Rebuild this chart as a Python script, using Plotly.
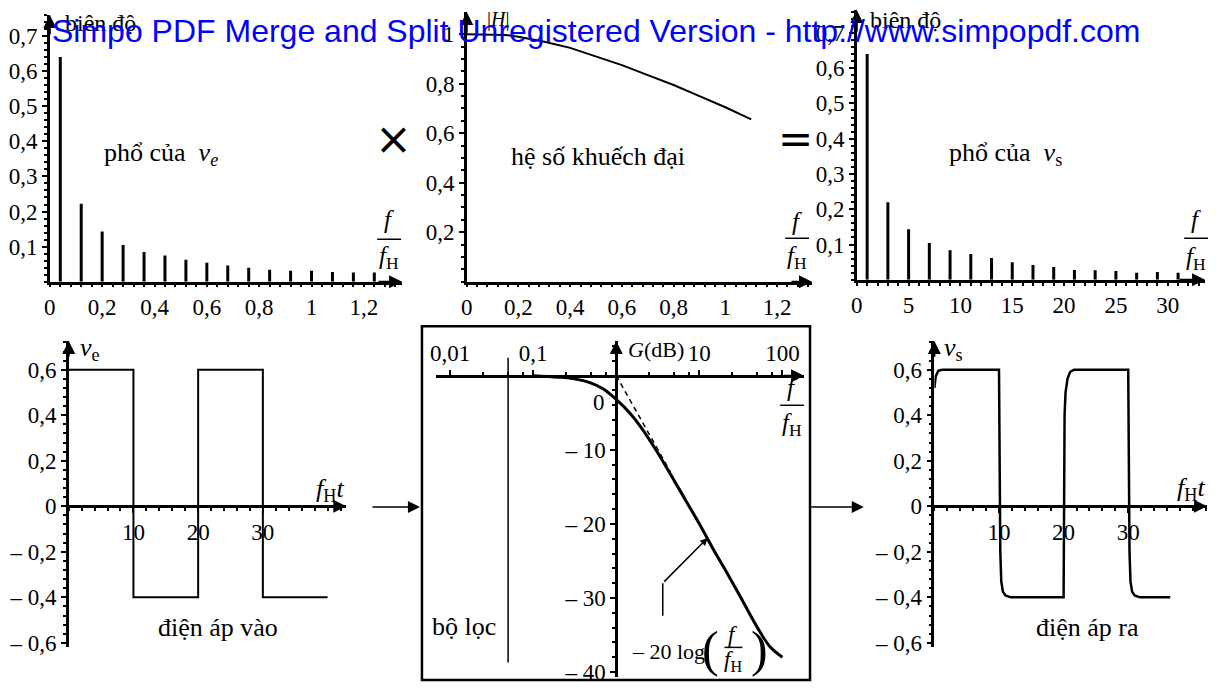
import math
import plotly.graph_objects as go

# the page body keeps an 8 px margin, so the figure is made to fit inside the window
OFF = 8
W, H = 1221 - 2 * OFF, 697 - 2 * OFF


def fx(p):
    return (p - OFF) / W


def fy(p):
    return 1 - (p - OFF) / H


# ---- data ----
# spectrum of v_e (f/fH, amplitude)
ve_freq = [0.04, 0.12, 0.20, 0.28, 0.36, 0.44, 0.52, 0.60, 0.68, 0.76, 0.84, 0.92, 1.00, 1.08, 1.16, 1.24]
ve_amp = [0.64, 0.222, 0.143, 0.105, 0.085, 0.075, 0.063, 0.054, 0.046, 0.04, 0.034, 0.031, 0.031, 0.028, 0.026, 0.026]

# gain |H|
h_freq = [0, 0.1, 0.15, 0.2, 0.3, 0.4, 0.5, 0.6, 0.7, 0.8, 0.9, 1.0, 1.1]
h_gain = [1.0, 1.0, 0.997, 0.99, 0.97, 0.945, 0.91, 0.875, 0.835, 0.795, 0.75, 0.705, 0.656]

# spectrum of v_s (harmonic number, amplitude)
vs_harm = [1, 3, 5, 7, 9, 11, 13, 15, 17, 19, 21, 23, 25, 27, 29, 31]
vs_amp = [0.64, 0.22, 0.143, 0.104, 0.084, 0.073, 0.062, 0.05, 0.042, 0.036, 0.028, 0.027, 0.025, 0.02, 0.022, 0.02]

# input voltage v_e (fH t, volts) - step
ve_t = [0, 10, 20, 30, 40]
ve_v = [0.6, -0.4, 0.6, -0.4, -0.4]

# Bode plot of filter
bode_f = [0.1, 0.2, 0.3, 0.5, 0.7, 1, 1.5, 2, 3, 5, 7, 10, 15, 20, 30, 50, 70, 100]
bode_db = [0, -0.2, -0.4, -1.0, -1.8, -3.2, -5.2, -7.0, -10.0, -14.2, -17.0, -20.0, -23.6, -26.0, -29.5, -34.0, -36.5, -38.0]
asym_f = [1, 4.5]
asym_db = [0, -13]
cut_f = [0.05, 0.05]
cut_db = [2.4, -38.7]
lead_f = [3.63, 3.63]
lead_db = [-32.4, -28.0]
lead_tip = (12.6, -21.9)

# output voltage v_s
vs_t = [0, 0.2, 0.6, 1.2, 10, 10.1, 10.2, 10.35, 10.6, 11.0, 11.8, 20, 20.05, 20.15, 20.3, 20.6, 21.0, 21.6,
        30, 30.1, 30.2, 30.35, 30.6, 31.0, 31.8, 36.5]
vs_v = [0.52, 0.57, 0.595, 0.6, 0.6, 0.2, -0.2, -0.33, -0.375, -0.392, -0.4, -0.4, 0.0, 0.4, 0.5, 0.56, 0.59, 0.6,
        0.6, 0.2, -0.2, -0.33, -0.375, -0.392, -0.4, -0.4]

# tick labels
spec_y_vals = [0.1, 0.2, 0.3, 0.4, 0.5, 0.6, 0.7]
spec_y_text = ["0,1", "0,2", "0,3", "0,4", "0,5", "0,6", "0,7"]
f_x_vals = [0, 0.2, 0.4, 0.6, 0.8, 1.0, 1.2]
f_x_text = ["0", "0,2", "0,4", "0,6", "0,8", "1", "1,2"]
h_y_vals = [0.2, 0.4, 0.6, 0.8, 1.0]
h_y_text = ["0,2", "0,4", "0,6", "0,8", "1"]
n_x_vals = [0, 5, 10, 15, 20, 25, 30]
n_x_text = ["0", "5", "10", "15", "20", "25", "30"]
v_y_vals = [0.6, 0.4, 0.2, 0, -0.2, -0.4, -0.6]
v_y_text = ["0,6", "0,4", "0,2", "0", "– 0,2", "– 0,4", "– 0,6"]
t_x_vals = [10, 20, 30]
t_x_text = ["10", "20", "30"]
bode_x_vals = [0.01, 0.1, 10, 100]
bode_x_text = ["0,01", "0,1", "10", "100"]
bode_y_vals = [-10, -20, -30, -40]
bode_y_text = ["– 10", "– 20", "– 30", "– 40"]
bode_minor = [m * d for d in [0.01, 0.1, 1, 10] for m in [1, 2.5, 5, 7.5]] + [100]


def stems(xs, ys):
    sx, sy = [], []
    for a, b in zip(xs, ys):
        sx += [a, a, None]
        sy += [0, b, None]
    return sx, sy


black = "black"
TICK = 23
TXT = 26
fig = go.Figure()

s1x, s1y = stems(ve_freq, ve_amp)
fig.add_trace(go.Scatter(x=s1x, y=s1y, mode="lines", line=dict(color=black, width=3), xaxis="x", yaxis="y"))
fig.add_trace(go.Scatter(x=h_freq, y=h_gain, mode="lines", line=dict(color=black, width=2), xaxis="x2", yaxis="y2"))
s3x, s3y = stems(vs_harm, vs_amp)
fig.add_trace(go.Scatter(x=s3x, y=s3y, mode="lines", line=dict(color=black, width=3), xaxis="x3", yaxis="y3"))
fig.add_trace(go.Scatter(x=ve_t, y=ve_v, mode="lines", line=dict(color=black, width=2, shape="hv"), xaxis="x4", yaxis="y4"))
fig.add_trace(go.Scatter(x=bode_f, y=bode_db, mode="lines", line=dict(color=black, width=3, shape="spline"), xaxis="x5", yaxis="y5"))
fig.add_trace(go.Scatter(x=asym_f, y=asym_db, mode="lines", line=dict(color=black, width=1.5, dash="5px,4px"), xaxis="x5", yaxis="y5"))
fig.add_trace(go.Scatter(x=cut_f, y=cut_db, mode="lines", line=dict(color=black, width=1.5), xaxis="x5", yaxis="y5"))
fig.add_trace(go.Scatter(x=lead_f, y=lead_db, mode="lines", line=dict(color=black, width=1.5), xaxis="x5", yaxis="y5"))
fig.add_trace(go.Scatter(x=vs_t, y=vs_v, mode="lines", line=dict(color=black, width=2.5), xaxis="x6", yaxis="y6"))


def ax(domain, rng, vals=None, text=None, minor=None, **kw):
    d = dict(domain=domain, range=rng, showgrid=False, zeroline=False, showline=True,
             linecolor=black, linewidth=2.5, ticks="outside", ticklen=5, tickwidth=2,
             tickcolor=black, tickfont=dict(family="Liberation Serif", size=TICK, color=black))
    if vals is not None:
        d.update(tickmode="array", tickvals=vals, ticktext=text)
    if minor is not None:
        d["minor"] = dict(ticks="outside", ticklen=3, tickwidth=2, tickcolor=black, **minor)
    d.update(kw)
    return d


vy0 = 512  # pixel row of v = 0 in the bottom panels

layout = dict(
    width=W, height=H, margin=dict(l=0, r=0, t=0, b=0),
    paper_bgcolor="white", plot_bgcolor="white", showlegend=False,
    font=dict(family="Liberation Serif", size=TXT, color=black),
    xaxis=ax([fx(44), fx(398)], [0, 1.346], f_x_vals, f_x_text, dict(dtick=0.04, tick0=0), anchor="y", ticklen=3),
    yaxis=ax([fy(285), fy(15)], [0, 0.76], spec_y_vals, spec_y_text, dict(dtick=0.02, tick0=0), anchor="x"),
    xaxis2=ax([fx(463), fx(810)], [0, 1.335], f_x_vals, f_x_text, dict(dtick=0.04, tick0=0), anchor="y2", ticklen=3),
    yaxis2=ax([fy(285), fy(12)], [0, 1.09], h_y_vals, h_y_text, dict(dtick=0.05, tick0=0), anchor="x2"),
    xaxis3=ax([fx(855), fx(1205)], [0, 33.6], n_x_vals, n_x_text, dict(dtick=1, tick0=0), anchor="y3", ticklen=3),
    yaxis3=ax([fy(283), fy(10)], [0, 0.765], spec_y_vals, spec_y_text, dict(dtick=0.02, tick0=0), anchor="x3"),
    xaxis4=ax([fx(63), fx(342)], [0, 42.9], t_x_vals, t_x_text, dict(dtick=2, tick0=0), anchor="free", position=fy(vy0)),
    yaxis4=ax([fy(655), fy(345)], [-0.62, 0.726], v_y_vals, v_y_text, dict(dtick=0.04, tick0=0), anchor="x4"),
    xaxis5=ax([fx(432), fx(802)], [-2.17, 2.26], bode_x_vals, bode_x_text, dict(tickvals=bode_minor), type="log",
              anchor="free", position=fy(380), side="top"),
    yaxis5=ax([fy(685), fy(345)], [-40.67, 4.67], bode_y_vals, bode_y_text, dict(dtick=2, tick0=0),
              anchor="free", position=fx(613.2)),
    xaxis6=ax([fx(933), fx(1207)], [0, 42.2], t_x_vals, t_x_text, dict(dtick=2, tick0=0), anchor="free", position=fy(vy0)),
    yaxis6=ax([fy(655), fy(345)], [-0.62, 0.726], v_y_vals, v_y_text, dict(dtick=0.04, tick0=0), anchor="x6"),
)

fig.update_layout(**layout)

ann = []
shapes = []


def axis_arrow(xr, yr, x, y, tx, ty):
    ann.append(dict(xref=xr, yref=yr, axref=xr, ayref=yr, x=x, y=y, ax=tx, ay=ty, text="",
                    showarrow=True, arrowhead=2, arrowsize=1.3, arrowwidth=2, arrowcolor=black, standoff=0))


axis_arrow("x", "y", 0, 0.76, 0, 0.7)
axis_arrow("x", "y", 1.346, 0, 1.25, 0)
axis_arrow("x2", "y2", 0, 1.09, 0, 1.0)
axis_arrow("x2", "y2", 1.335, 0, 1.25, 0)
axis_arrow("x3", "y3", 0, 0.765, 0, 0.7)
axis_arrow("x3", "y3", 33.6, 0, 31, 0)
axis_arrow("x4", "y4", 0, 0.726, 0, 0.65)
axis_arrow("x4", "y4", 42.9, 0, 40, 0)
axis_arrow("x6", "y6", 0, 0.726, 0, 0.65)
axis_arrow("x6", "y6", 42.2, 0, 39, 0)
axis_arrow("x5", "y5", 0, 4.67, 0, 0)
axis_arrow("x5", "y5", 2.26, 0, 2.0, 0)
# leader arrow to the Bode curve (log axis takes log10)
ann.append(dict(xref="x5", yref="y5", axref="x5", ayref="y5", x=math.log10(lead_tip[0]), y=lead_tip[1],
                ax=math.log10(lead_f[1]), ay=lead_db[1], text="", showarrow=True, arrowhead=2,
                arrowsize=1, arrowwidth=1.5, arrowcolor=black, standoff=0))

# arrows between bottom panels
for x0, x1 in [(367, 416), (808, 862)]:
    ann.append(dict(xref="paper", yref="paper", axref="pixel", ayref="pixel", x=fx(x1), y=fy(513),
                    ax=-(x1 - x0), ay=0, text="", showarrow=True, arrowhead=2, arrowsize=1.6,
                    arrowwidth=1.5, arrowcolor=black, standoff=0))


def label(x, y, text, size=TXT, xanchor="center", family="Liberation Serif", color=black):
    ann.append(dict(xref="paper", yref="paper", x=fx(x), y=fy(y), text=text, showarrow=False,
                    xanchor=xanchor, yanchor="middle", font=dict(family=family, size=size, color=color)))


def frac(xc, y_top, y_line, y_bot, half=12, size=25):
    label(xc, y_top, "<i>f</i>", size=size)
    label(xc, y_bot, "<i>f</i><sub>H</sub>", size=size)
    shapes.append(dict(type="line", xref="paper", yref="paper", x0=fx(xc - half), x1=fx(xc + half),
                       y0=fy(y_line), y1=fy(y_line), line=dict(color=black, width=1.5)))


label(57, 23, "biên độ", size=24, xanchor="left")
label(481, 20, "|<i>H</i>|", size=20, xanchor="left")
label(866, 20, "biên độ", size=24, xanchor="left")
label(96, 156, "phổ của  <i>v</i><sub><i>e</i></sub>", xanchor="left")
label(505, 158, "hệ số khuếch đại", xanchor="left")
label(946, 156, "phổ của  <i>v</i><sub>s</sub>", xanchor="left")
label(389, 140, "×", size=44, family="DejaVu Sans")
label(793, 140, "=", size=42, family="DejaVu Sans")
frac(385, 222, 242, 260)
frac(795, 224, 241, 260)
frac(1196, 222, 241, 261)
frac(790, 392, 410, 429)

label(72, 353, "<i>v</i><sub>e</sub>", xanchor="left")
label(310, 496, "<i>f</i><sub>H</sub><i>t</i>", xanchor="left")
label(151, 635, "điện áp vào", xanchor="left")
label(941, 353, "<i>v</i><sub>s</sub>", xanchor="left")
label(1175, 495, "<i>f</i><sub>H</sub><i>t</i>", xanchor="left")
label(1033, 635, "điện áp ra", xanchor="left")

label(623, 354, "<i>G</i>(dB)", size=22, xanchor="left")
label(596, 407, "0", size=TICK)
label(426, 634, "bộ lọc", xanchor="left")
label(627, 659, "– 20 log", size=22, xanchor="left")
label(708, 657, "(", size=50)
label(757, 657, ")", size=50)
frac(731, 642, 655, 669, half=9, size=23)

shapes.append(dict(type="rect", xref="paper", yref="paper", x0=fx(418), x1=fx(808), y0=fy(688), y1=fy(330),
                   line=dict(color=black, width=2.5)))

# watermark
label(44, 31, "Simpo PDF Merge and Split Unregistered Version - http://www.simpopdf.com",
      size=32, xanchor="left", family="Liberation Sans", color="#0000ff")

fig.update_layout(annotations=ann, shapes=shapes)
fig.write_html("out.html")
